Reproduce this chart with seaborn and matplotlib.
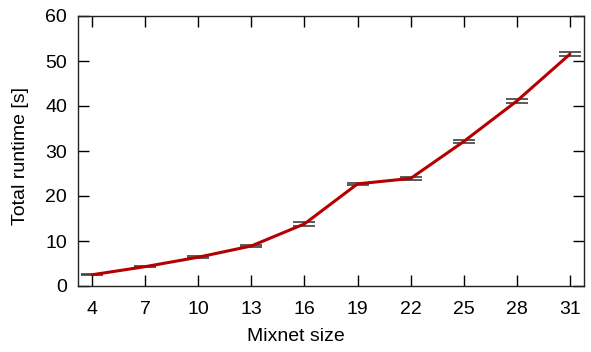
import matplotlib
matplotlib.use("Agg")
import matplotlib.pyplot as plt
import seaborn as sns
import pandas as pd

sizes = [4, 7, 10, 13, 16, 19, 22, 25, 28, 31]
runtime = [2.5, 4.3, 6.4, 8.9, 13.8, 22.7, 23.9, 32.1, 41.1, 51.5]
err = [0.15, 0.15, 0.2, 0.25, 0.4, 0.3, 0.3, 0.4, 0.4, 0.4]
yticks = [0, 10, 20, 30, 40, 50, 60]

df = pd.DataFrame({"size": sizes, "runtime": runtime, "err": err})

sns.set_theme(style="ticks")
plt.rcParams['font.family'] = ['Liberation Sans', 'DejaVu Sans']
plt.rcParams['text.color'] = 'black'
plt.rcParams['axes.labelcolor'] = 'black'

fig = plt.figure(figsize=(5.91, 3.52), dpi=100)
ax = fig.add_axes([78/591, 1-286/352, (584-78)/591, (286-16)/352])

ax.errorbar(df["size"], df["runtime"], yerr=df["err"], fmt="none",
            ecolor="#404040", elinewidth=1.2, capsize=8, capthick=1.2, zorder=2)
sns.lineplot(data=df, x="size", y="runtime", color="#b40000", linewidth=2.2,
             ax=ax, zorder=3)

ax.set_xlim(3.2, 31.8)
ax.set_ylim(0, 60)
ax.set_xticks(sizes)
ax.set_yticks(yticks)
ax.tick_params(direction="in", length=8, width=1, top=True, right=True,
               labelsize=14, colors="black")
ax.tick_params(axis="x", pad=11)
ax.tick_params(axis="y", pad=8)
for s in ax.spines.values():
    s.set_linewidth(1)
    s.set_color("#222222")
ax.set_xlabel("Mixnet size", fontsize=14, color="black")
ax.set_ylabel("Total runtime [s]", fontsize=14, color="black")
ax.xaxis.set_label_coords((296 - 78) / 506, -(345 - 286) / 270, transform=ax.transAxes)
ax.xaxis.label.set_va("bottom")
ax.yaxis.set_label_coords(-(78 - 21) / 506, 0.48)
ax.yaxis.label.set_va("center")

fig.savefig("out.png", dpi=100)
